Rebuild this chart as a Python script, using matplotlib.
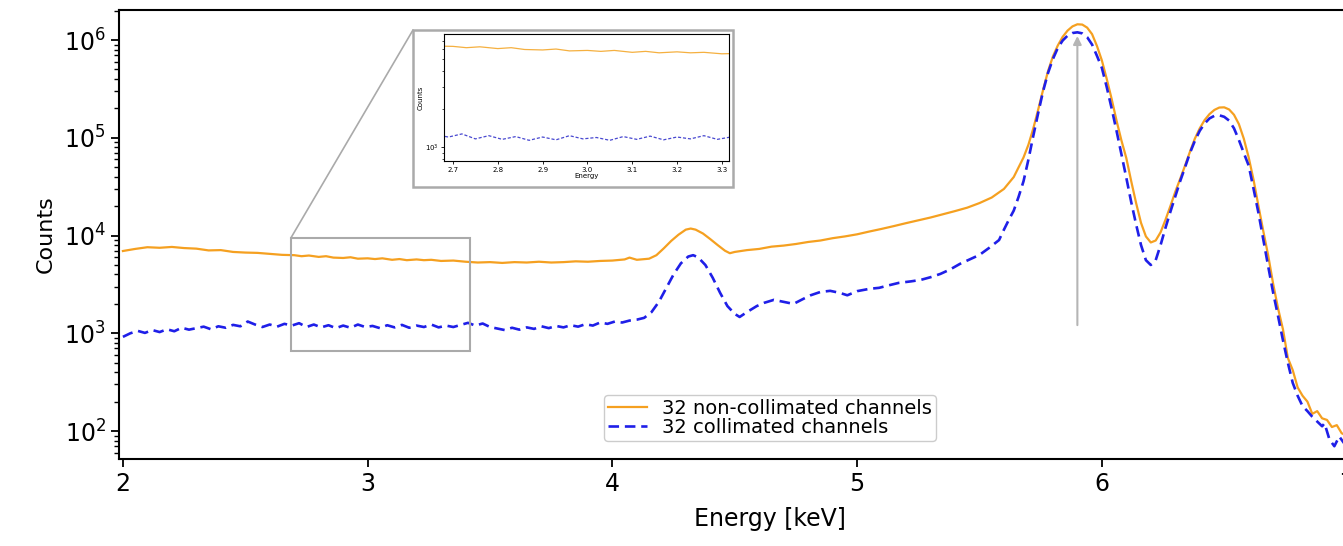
import matplotlib
matplotlib.use("Agg")
import matplotlib.pyplot as plt
from matplotlib.patches import Rectangle, ConnectionPatch

# ---------------- data ----------------
energy_nc = [2.00, 2.05, 2.10, 2.15, 2.20, 2.25, 2.30, 2.35, 2.40, 2.45, 2.50, 2.55,
             2.60, 2.65, 2.70, 2.73, 2.76, 2.80, 2.83, 2.86, 2.90, 2.93, 2.96, 3.00,
             3.03, 3.06, 3.10, 3.13, 3.16, 3.20, 3.23, 3.26, 3.30, 3.35, 3.40, 3.45,
             3.50, 3.55, 3.60, 3.65, 3.70, 3.75, 3.80, 3.85, 3.90, 3.95, 4.00, 4.05,
             4.07, 4.10, 4.15, 4.18, 4.21, 4.24, 4.27, 4.30, 4.32, 4.34, 4.37, 4.40,
             4.43, 4.46, 4.48, 4.50, 4.55, 4.60, 4.65, 4.70, 4.75, 4.80, 4.85, 4.90,
             4.95, 5.00, 5.05, 5.10, 5.15, 5.20, 5.25, 5.30, 5.35, 5.40, 5.45, 5.50,
             5.55, 5.60, 5.62, 5.64, 5.66, 5.68, 5.70, 5.72, 5.74, 5.76, 5.78, 5.80,
             5.82, 5.84, 5.86, 5.88, 5.90, 5.92, 5.94, 5.96, 5.98, 6.00, 6.02, 6.04,
             6.06, 6.08, 6.10, 6.12, 6.14, 6.16, 6.18, 6.20, 6.22, 6.24, 6.26, 6.28,
             6.30, 6.32, 6.34, 6.36, 6.38, 6.40, 6.42, 6.44, 6.46, 6.48, 6.50, 6.52,
             6.54, 6.56, 6.58, 6.60, 6.62, 6.64, 6.66, 6.68, 6.70, 6.72, 6.74, 6.76,
             6.78, 6.80, 6.82, 6.84, 6.86, 6.88, 6.90, 6.92, 6.94, 6.96, 6.98, 7.00]
counts_nc = [6950, 7300, 7600, 7500, 7650, 7450, 7350, 7050, 7100, 6800, 6700, 6650,
             6500, 6350, 6300, 6150, 6250, 6050, 6150, 5950, 5900, 6000, 5800, 5850,
             5750, 5850, 5650, 5750, 5600, 5700, 5600, 5650, 5500, 5550, 5400, 5300,
             5350, 5250, 5350, 5300, 5400, 5300, 5350, 5450, 5400, 5500, 5550, 5700,
             5950, 5650, 5800, 6300, 7400, 8800, 10200, 11500, 11800, 11500, 10500, 9200,
             8000, 7000, 6600, 6800, 7100, 7300, 7700, 7900, 8200, 8600, 8900, 9400,
             9800, 10300, 11000, 11700, 12500, 13400, 14300, 15300, 16500, 17800, 19300, 21500,
             24500, 30000, 34500, 39700, 50000, 63000, 85000, 125000, 195000, 310000, 480000, 680000,
             880000, 1080000, 1250000, 1380000, 1450000, 1440000, 1340000, 1150000, 870000, 620000, 400000, 250000,
             150000, 94000, 62000, 36000, 21500, 13500, 9800, 8500, 8900, 10800, 14500, 20000,
             28000, 38000, 52000, 72000, 98000, 125000, 152000, 175000, 193000, 204000, 205000, 195000,
             172000, 138000, 98000, 63000, 37000, 20000, 11000, 6200, 3200, 1800, 1100, 560,
             420, 280, 230, 200, 150, 160, 135, 130, 110, 115, 95, 90]

energy_c = [2.00, 2.03, 2.06, 2.09, 2.12, 2.15, 2.18, 2.21, 2.24, 2.27, 2.30, 2.33,
            2.36, 2.39, 2.42, 2.45, 2.48, 2.51, 2.54, 2.57, 2.60, 2.63, 2.66, 2.69,
            2.72, 2.75, 2.78, 2.81, 2.84, 2.87, 2.90, 2.93, 2.96, 2.99, 3.02, 3.05,
            3.08, 3.11, 3.14, 3.17, 3.20, 3.23, 3.26, 3.29, 3.32, 3.35, 3.38, 3.41,
            3.44, 3.47, 3.50, 3.53, 3.56, 3.59, 3.62, 3.65, 3.68, 3.71, 3.74, 3.77,
            3.80, 3.83, 3.86, 3.89, 3.92, 3.95, 3.98, 4.01, 4.04, 4.07, 4.10, 4.13,
            4.16, 4.19, 4.22, 4.25, 4.28, 4.31, 4.33, 4.35, 4.38, 4.41, 4.44, 4.47,
            4.50, 4.52, 4.55, 4.59, 4.62, 4.66, 4.70, 4.74, 4.78, 4.81, 4.85, 4.89,
            4.93, 4.96, 5.00, 5.05, 5.09, 5.13, 5.17, 5.22, 5.26, 5.30, 5.34, 5.38,
            5.42, 5.46, 5.50, 5.54, 5.58, 5.60, 5.62, 5.64, 5.66, 5.68, 5.70, 5.72,
            5.74, 5.76, 5.78, 5.80, 5.82, 5.84, 5.86, 5.88, 5.90, 5.92, 5.94, 5.96,
            5.98, 6.00, 6.02, 6.04, 6.06, 6.08, 6.10, 6.12, 6.14, 6.16, 6.18, 6.20,
            6.22, 6.24, 6.26, 6.28, 6.30, 6.32, 6.34, 6.36, 6.38, 6.40, 6.42, 6.44,
            6.46, 6.48, 6.50, 6.52, 6.54, 6.56, 6.58, 6.60, 6.62, 6.64, 6.66, 6.68,
            6.70, 6.72, 6.74, 6.76, 6.78, 6.80, 6.82, 6.84, 6.86, 6.88, 6.90, 6.91,
            6.93, 6.95, 6.97, 6.99]
counts_c = [920, 1000, 1060, 1010, 1080, 1030, 1100, 1050, 1140, 1090, 1130, 1170,
            1100, 1180, 1140, 1220, 1180, 1320, 1230, 1160, 1230, 1170, 1250, 1200,
            1270, 1160, 1230, 1150, 1210, 1130, 1200, 1140, 1230, 1160, 1190, 1130,
            1210, 1150, 1220, 1140, 1200, 1160, 1230, 1150, 1200, 1160, 1220, 1280,
            1200, 1260, 1160, 1120, 1080, 1140, 1090, 1150, 1110, 1180, 1130, 1190,
            1150, 1210, 1170, 1240, 1200, 1290, 1250, 1320, 1290, 1350, 1380, 1440,
            1650, 2100, 2900, 4000, 5200, 6100, 6300, 6000, 5000, 3700, 2600, 1900,
            1580, 1470, 1650, 1900, 2050, 2200, 2100, 2000, 2250, 2450, 2650, 2720,
            2590, 2450, 2700, 2850, 2920, 3100, 3280, 3400, 3520, 3750, 4050, 4500,
            5130, 5700, 6340, 7500, 9000, 11500, 14500, 18000, 25000, 36000, 60000, 105000,
            180000, 300000, 460000, 640000, 830000, 990000, 1110000, 1180000, 1200000, 1170000, 1070000, 900000,
            690000, 520000, 330000, 200000, 118000, 68000, 39000, 22000, 13000, 8000, 5600, 5000,
            5600, 8000, 12000, 17500, 25000, 36000, 50000, 70000, 93000, 118000, 140000, 158000,
            168000, 170000, 164000, 150000, 125000, 95000, 70000, 52000, 30000, 17000, 9000, 4800,
            2600, 1500, 850, 500, 311, 230, 180, 160, 140, 125, 112, 120,
            82, 70, 88, 75]

label_nc = "32 non-collimated channels"
label_c = "32 collimated channels"
col_nc = "#f5a020"
col_c = "#1f1fe8"

# ---------------- figure ----------------
W, H = 1343, 546
fig = plt.figure(figsize=(W / 100, H / 100), dpi=100)

def fx(px):
    return px / W

def fy(py):
    return 1 - py / H

ax = fig.add_axes([fx(119), fy(459), fx(1420) - fx(119), fy(10) - fy(459)])
ax.plot(energy_nc, counts_nc, color=col_nc, lw=1.6, label=label_nc)
ax.plot(energy_c, counts_c, color=col_c, lw=1.9, ls=(0, (4.0, 2.2)), label=label_c)
ax.set_yscale("log")
ax.set_xlim(1.984, 7.3)
ax.set_ylim(51.8, 2.03e6)
ax.set_xticks([2, 3, 4, 5, 6, 7])
ax.tick_params(axis="both", which="major", labelsize=17, length=6, width=1.3)
ax.tick_params(axis="y", which="minor", length=3.5, width=1.0)
for s in ax.spines.values():
    s.set_linewidth(1.5)
ax.set_xlabel("Energy [keV]", fontsize=17, labelpad=8)
ax.set_ylabel("Counts", fontsize=16, labelpad=6)

leg = ax.legend(loc="lower center", bbox_to_anchor=(0.5004, 0.04), borderaxespad=0,
                fontsize=14, labelspacing=0.0, borderpad=0.2, handlelength=2.0,
                handletextpad=0.8, fancybox=True, edgecolor="#cccccc", framealpha=1)

# arrow at the main peak
ax.annotate("", xy=(5.9, 1.1e6), xytext=(5.9, 1213),
            arrowprops=dict(arrowstyle="-|>", color="#b5b5b5", lw=1.5,
                            mutation_scale=12, shrinkA=0, shrinkB=0))

# zoom rectangle on main axes
ax.add_patch(Rectangle((2.686, 658), 3.418 - 2.686, 9420 - 658,
                       fill=False, edgecolor="#aaaaaa", lw=1.5, zorder=5))

# inset frame and connector
fig.patches.append(Rectangle((fx(413), fy(187)), fx(733) - fx(413), fy(30) - fy(187),
                             transform=fig.transFigure, fill=False,
                             edgecolor="#aaaaaa", lw=1.8, zorder=3))
con = ConnectionPatch(xyA=(2.686, 9420), coordsA=ax.transData,
                      xyB=(fx(413), fy(30)), coordsB=fig.transFigure,
                      color="#aaaaaa", lw=1.2)
fig.add_artist(con)

# inset
axi = fig.add_axes([fx(444), fy(161), fx(729) - fx(444), fy(34) - fy(161)])
axi.plot(energy_nc, counts_nc, color="#f5b040", lw=0.9)
axi.plot(energy_c, counts_c, color="#4848d0", lw=0.9, ls=(0, (2.5, 1.5)))
axi.set_yscale("log")
axi.set_xlim(2.68, 3.316)
axi.set_ylim(774, 7900)
axi.set_xticks([2.7, 2.8, 2.9, 3.0, 3.1, 3.2, 3.3])
axi.tick_params(axis="both", which="major", labelsize=5, length=2.5, width=0.6, pad=1.5)
axi.tick_params(axis="y", which="minor", length=1.5, width=0.5, labelleft=False)
axi.yaxis.set_major_locator(matplotlib.ticker.LogLocator(base=10))
for s in axi.spines.values():
    s.set_linewidth(0.8)
axi.set_xlabel("Energy", fontsize=5, labelpad=0.5)
axi.set_ylabel("Counts", fontsize=5, labelpad=1)

fig.savefig("out.png", dpi=100)
